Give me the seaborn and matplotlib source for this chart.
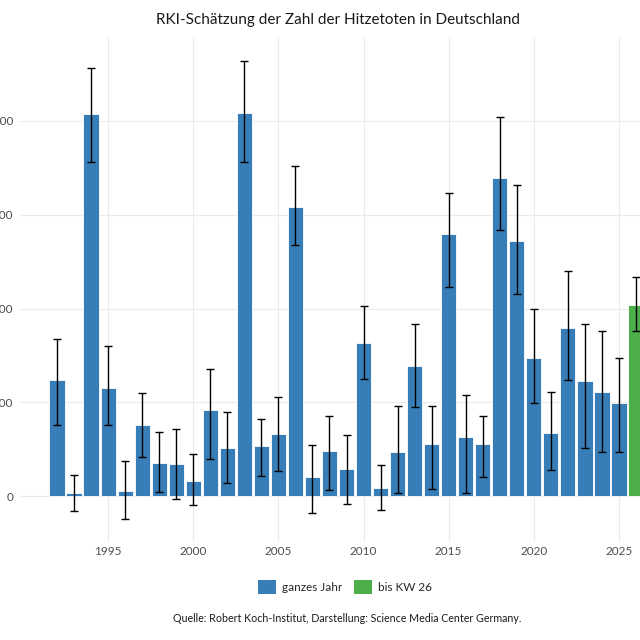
import pandas as pd
import matplotlib
matplotlib.use("Agg")
import matplotlib.pyplot as plt
import seaborn as sns
from matplotlib.patches import Patch

# Daten
jahre = list(range(1992, 2027))
tote = [3090, 80, 10190, 2880, 130, 1890, 880, 850, 400, 2290, 1280, 10210,
        1330, 1650, 7710, 510, 1200, 720, 4070, 210, 1170, 3470, 1390, 6990,
        1570, 1390, 8490, 6800, 3680, 1680, 4490, 3070, 2770, 2480, 5100]
obere = [4190, 560, 11410, 3990, 930, 2740, 1710, 1790, 1120, 3390, 2240, 11600,
         2050, 2640, 8800, 1360, 2130, 1630, 5070, 830, 2400, 4590, 2400, 8090,
         2690, 2130, 10110, 8290, 4990, 2770, 6000, 4590, 4400, 3680, 5840]
untere = [1890, -400, 8910, 1890, -610, 1040, 110, -80, -240, 990, 350, 8910,
          530, 670, 6690, -450, 160, -210, 3130, -370, 80, 2380, 190, 5580,
          80, 510, 7090, 5390, 2480, 690, 3090, 1280, 1170, 1170, 4400]
zeitraum = ["ganzes Jahr"] * 34 + ["bis KW 26"]
farben = {"ganzes Jahr": "#377EB8", "bis KW 26": "#4DAF4A"}

df = pd.DataFrame({"Jahr": jahre, "Tote": tote, "hi": obere, "lo": untere,
                   "Zeitraum": zeitraum})

sns.set_theme(style="whitegrid")
plt.rcParams["font.family"] = ["Lato", "DejaVu Sans"]

fig = plt.figure(figsize=(6.4, 6.4), dpi=100)
ax = fig.add_axes([20 / 640, 98 / 640, 620 / 640, 504 / 640])

sns.barplot(data=df, x="Jahr", y="Tote", hue="Zeitraum", palette=farben,
            native_scale=True, dodge=False, width=0.9, errorbar=None,
            saturation=1, edgecolor="white", linewidth=0.6, legend=False, ax=ax)

ax.errorbar(df["Jahr"], df["Tote"],
            yerr=[df["Tote"] - df["lo"], df["hi"] - df["Tote"]],
            fmt="none", ecolor="black", elinewidth=1.0, capsize=3.2,
            capthick=1.0, zorder=5)

ax.set_xlim(1989.82, 2026.24)
ax.set_ylim(-1224, 12211)
ax.set_xticks([1995, 2000, 2005, 2010, 2015, 2020, 2025])
ax.set_yticks([0, 2500, 5000, 7500, 10000])
ax.set_xlabel("")
ax.set_ylabel("")
ax.grid(True, color="#EBEBEB", linewidth=0.8)
for s in ax.spines.values():
    s.set_visible(False)
ax.tick_params(axis="both", labelsize=8.5, labelcolor="#4D4D4D", length=0)
ax.tick_params(axis="x", pad=3)
ax.tick_params(axis="y", pad=5)

fig.suptitle("RKI-Schätzung der Zahl der Hitzetoten in Deutschland",
             x=338 / 640, y=1 - 20 / 640, va="center", fontsize=11,
             color="#1A1A1A")

handles = [Patch(facecolor=farben[k], edgecolor="none", label=k)
           for k in ["ganzes Jahr", "bis KW 26"]]
fig.legend(handles=handles, loc="center", bbox_to_anchor=(345 / 640, 1 - 587 / 640),
           ncol=2, frameon=False, fontsize=8.5, handlelength=1.55, handleheight=1.55,
           columnspacing=1.0, handletextpad=0.5)

fig.text(347 / 640, 1 - 619 / 640,
         "Quelle: Robert Koch-Institut, Darstellung: Science Media Center Germany.",
         ha="center", va="center", fontsize=7.7, color="#1A1A1A")

fig.savefig("out.png", dpi=100)
